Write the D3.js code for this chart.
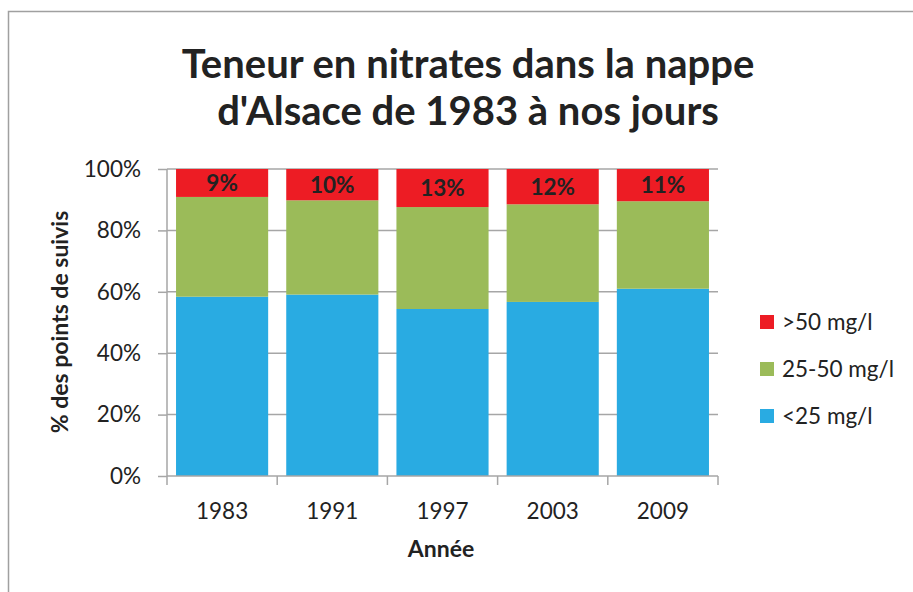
<!DOCTYPE html>
<html>
<head>
<meta charset="utf-8">
<script src="https://cdn.jsdelivr.net/npm/d3@7"></script>
<style>
  body { margin: 0; background: #fff; }
  text { font-family: Lato, "Open Sans", sans-serif; fill: #222; }
</style>
</head>
<body>
<div id="root"></div>
<script>
var years = ['1983', '1991', '1997', '2003', '2009'];
var below25 = [58.4, 59.1, 54.4, 56.7, 61.0];
var from25to50 = [32.5, 30.7, 33.2, 31.8, 28.5];
var above50 = [9.1, 10.2, 12.4, 11.5, 10.5];
var above50Labels = ['9%', '10%', '13%', '12%', '11%'];
var yTicks = [0, 20, 40, 60, 80, 100];

var series = [
  { name: '<25 mg/l', values: below25, colour: '#29abe2' },
  { name: '25-50 mg/l', values: from25to50, colour: '#9bbb59' },
  { name: '>50 mg/l', values: above50, colour: '#ed1c24' }
];

var w = 913, h = 592;
var margin = { left: 167, right: 195, top: 169, bottom: 116 };

var svg = d3.select('#root')
  .append('svg')
    .attr('width', w)
    .attr('height', h);

// chart border (only top and left visible)
svg.append('path')
    .attr('d', 'M8.5,' + h + 'V11.5H' + w)
    .attr('fill', 'none')
    .attr('stroke', '#a0a0a0')
    .attr('stroke-width', 1.5);

var x = d3.scaleBand()
    .domain(years)
    .range([margin.left, w - margin.right])
    .paddingInner(0.164)
    .paddingOuter(0.082);

var y = d3.scaleLinear()
    .domain([0, 100])
    .range([h - margin.bottom, margin.top]);

// gridlines
svg.append('g')
  .selectAll('line')
    .data(yTicks.slice(1))
  .enter().append('line')
    .attr('x1', margin.left)
    .attr('x2', w - margin.right)
    .attr('y1', function (d) { return y(d); })
    .attr('y2', function (d) { return y(d); })
    .attr('stroke', '#a6a6a6')
    .attr('stroke-width', 1.5);

// stacked bars
var stacked = years.map(function (yr, i) {
  var row = { year: yr };
  series.forEach(function (s) { row[s.name] = s.values[i]; });
  return row;
});
var stack = d3.stack().keys(series.map(function (s) { return s.name; }));
var layers = stack(stacked);

svg.append('g')
  .selectAll('g')
    .data(layers)
  .enter().append('g')
    .attr('fill', function (d, i) { return series[i].colour; })
  .selectAll('rect')
    .data(function (d) { return d; })
  .enter().append('rect')
    .attr('x', function (d) { return x(d.data.year); })
    .attr('width', x.bandwidth())
    .attr('y', function (d) { return y(d[1]); })
    .attr('height', function (d) { return y(d[0]) - y(d[1]); });

// labels on the top segment
svg.append('g')
  .selectAll('text')
    .data(layers[2])
  .enter().append('text')
    .attr('x', function (d) { return x(d.data.year) + x.bandwidth() / 2; })
    .attr('y', function (d) { return (y(d[0]) + y(d[1])) / 2; })
    .attr('dy', '0.36em')
    .attr('text-anchor', 'middle')
    .style('font-size', '22.5px')
    .style('font-weight', 'bold')
    .text(function (d, i) { return above50Labels[i]; });

// y axis
var yAxis = svg.append('g')
    .attr('transform', 'translate(' + margin.left + ',0)')
    .call(d3.axisLeft(y).tickValues(yTicks).tickSize(9).tickPadding(17)
      .tickFormat(function (d) { return d + '%'; }));
yAxis.select('.domain').attr('stroke', '#a6a6a6').attr('stroke-width', 1.5).attr('d', 'M0,' + y(0) + 'V' + y(100));
yAxis.selectAll('.tick line').attr('stroke', '#a6a6a6').attr('stroke-width', 1.5);
yAxis.selectAll('.tick text').style('font-size', '22.5px').style('fill', '#222')
    .style('font-family', 'Lato, "Open Sans", sans-serif');

// x axis with ticks between categories
var xAxis = svg.append('g')
    .attr('transform', 'translate(0,' + y(0) + ')');
xAxis.append('line')
    .attr('x1', margin.left)
    .attr('x2', w - margin.right)
    .attr('stroke', '#a6a6a6')
    .attr('stroke-width', 1.5);
var step = x.step();
xAxis.selectAll('.sep')
    .data(d3.range(years.length + 1))
  .enter().append('line')
    .attr('class', 'sep')
    .attr('x1', function (d) { return margin.left + d * step; })
    .attr('x2', function (d) { return margin.left + d * step; })
    .attr('y1', 0)
    .attr('y2', 9)
    .attr('stroke', '#a6a6a6')
    .attr('stroke-width', 1.5);
xAxis.selectAll('.lbl')
    .data(years)
  .enter().append('text')
    .attr('class', 'lbl')
    .attr('x', function (d) { return x(d) + x.bandwidth() / 2; })
    .attr('y', 43)
    .attr('text-anchor', 'middle')
    .style('font-size', '22.5px')
    .text(function (d) { return d; });

// axis titles
svg.append('text')
    .attr('x', 441)
    .attr('y', 557)
    .attr('text-anchor', 'middle')
    .style('font-size', '23px')
    .style('font-weight', 'bold')
    .text('Année');

svg.append('text')
    .attr('transform', 'translate(68,322) rotate(-90)')
    .attr('text-anchor', 'middle')
    .style('font-size', '23px')
    .style('font-weight', 'bold')
    .text('% des points de suivis');

// title
var title = svg.append('text')
    .attr('text-anchor', 'middle')
    .style('font-size', '40px')
    .style('font-weight', 'bold');
title.append('tspan').attr('x', 468).attr('y', 78).text('Teneur en nitrates dans la nappe');
title.append('tspan').attr('x', 468).attr('y', 125).text("d'Alsace de 1983 à nos jours");

// legend
var legend = svg.append('g')
  .selectAll('g')
    .data(series.slice().reverse())
  .enter().append('g')
    .attr('transform', function (d, i) { return 'translate(760,' + (322 + i * 47) + ')'; });
legend.append('rect')
    .attr('x', 0)
    .attr('y', -7)
    .attr('width', 14)
    .attr('height', 14)
    .attr('fill', function (d) { return d.colour; });
legend.append('text')
    .attr('x', 22)
    .attr('dy', '0.36em')
    .style('font-size', '22.5px')
    .text(function (d) { return d.name; });
</script>
</body>
</html>
